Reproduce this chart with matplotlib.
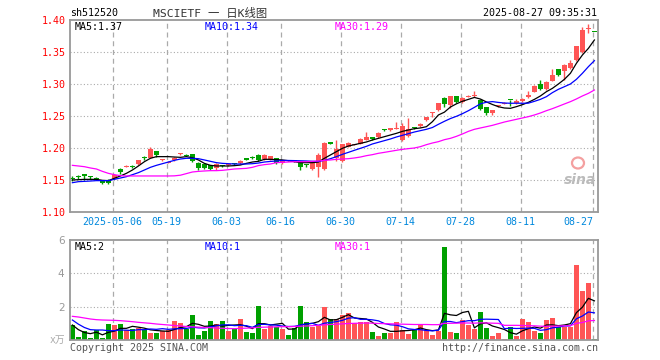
import matplotlib
matplotlib.use('Agg')
import matplotlib.pyplot as plt
from matplotlib.patches import Ellipse
import numpy as np

plt.rcParams['font.family'] = ['DejaVu Sans Mono', 'Noto Sans CJK SC']

# 日K数据 (2025-04-22 ~ 2025-08-27, 88个交易日)
opens = [1.153, 1.155, 1.158, 1.155, 1.153, 1.149, 1.150, 1.152, 1.167, 1.171,
         1.172, 1.175, 1.186, 1.185, 1.195, 1.181, 1.177, 1.181, 1.190, 1.189,
         1.190, 1.177, 1.175, 1.173, 1.168, 1.173, 1.173, 1.176, 1.176, 1.183,
         1.186, 1.189, 1.183, 1.183, 1.184, 1.176, 1.181, 1.180, 1.179, 1.174,
         1.167, 1.171, 1.167, 1.208, 1.184, 1.179, 1.202, 1.205, 1.207, 1.2125,
         1.2167, 1.2167, 1.229, 1.228, 1.230, 1.2125, 1.218, 1.232, 1.234, 1.243,
         1.255, 1.259, 1.2776, 1.2672, 1.2813, 1.2724, 1.280, 1.281, 1.275, 1.2635,
         1.254, 1.265, 1.269, 1.2755, 1.2698, 1.2729, 1.2792, 1.288, 1.300, 1.2917,
         1.3052, 1.3229, 1.3208, 1.3245, 1.3375, 1.3495, 1.386, 1.382]
highs = [1.156, 1.158, 1.158, 1.157, 1.154, 1.150, 1.151, 1.159, 1.168, 1.174,
         1.173, 1.182, 1.188, 1.202, 1.196, 1.183, 1.180, 1.186, 1.192, 1.190,
         1.191, 1.178, 1.176, 1.174, 1.176, 1.174, 1.175, 1.177, 1.181, 1.184,
         1.187, 1.190, 1.190, 1.188, 1.185, 1.182, 1.182, 1.182, 1.180, 1.175,
         1.177, 1.192, 1.210, 1.209, 1.2125, 1.207, 1.209, 1.207, 1.215, 1.2245,
         1.217, 1.225, 1.230, 1.232, 1.241, 1.2385, 1.2464, 1.233, 1.239, 1.249,
         1.257, 1.271, 1.279, 1.282, 1.282, 1.280, 1.283, 1.2896, 1.277, 1.264,
         1.260, 1.267, 1.272, 1.2755, 1.276, 1.278, 1.2896, 1.298, 1.3063, 1.304,
         1.3229, 1.324, 1.331, 1.3375, 1.360, 1.3896, 1.3937, 1.382]
lows = [1.149, 1.151, 1.150, 1.152, 1.150, 1.144, 1.144, 1.151, 1.160, 1.170,
        1.169, 1.174, 1.182, 1.185, 1.186, 1.180, 1.176, 1.180, 1.189, 1.187,
        1.178, 1.166, 1.167, 1.165, 1.166, 1.171, 1.172, 1.174, 1.175, 1.181,
        1.183, 1.180, 1.182, 1.182, 1.175, 1.175, 1.179, 1.178, 1.166, 1.171,
        1.165, 1.154, 1.166, 1.206, 1.179, 1.178, 1.201, 1.204, 1.206, 1.212,
        1.212, 1.216, 1.227, 1.227, 1.229, 1.211, 1.217, 1.230, 1.233, 1.242,
        1.249, 1.258, 1.2635, 1.262, 1.271, 1.271, 1.279, 1.280, 1.259, 1.251,
        1.252, 1.264, 1.268, 1.2656, 1.269, 1.272, 1.278, 1.287, 1.291, 1.291,
        1.304, 1.313, 1.307, 1.323, 1.336, 1.348, 1.380, 1.3815]
closes = [1.152, 1.154, 1.157, 1.154, 1.151, 1.146, 1.145, 1.158, 1.163, 1.172,
          1.171, 1.181, 1.185, 1.198, 1.189, 1.182, 1.178, 1.185, 1.191, 1.188,
          1.179, 1.168, 1.168, 1.167, 1.175, 1.172, 1.174, 1.175, 1.180, 1.182,
          1.185, 1.182, 1.189, 1.187, 1.176, 1.181, 1.180, 1.179, 1.171, 1.173,
          1.176, 1.189, 1.208, 1.207, 1.198, 1.206, 1.208, 1.206, 1.214, 1.2177,
          1.2135, 1.224, 1.228, 1.231, 1.231, 1.234, 1.229, 1.231, 1.238, 1.248,
          1.256, 1.270, 1.2688, 1.2813, 1.2724, 1.2786, 1.281, 1.282, 1.2604, 1.254,
          1.259, 1.2656, 1.271, 1.275, 1.274, 1.277, 1.2833, 1.2974, 1.2922, 1.3036,
          1.314, 1.314, 1.3297, 1.3333, 1.3594, 1.3844, 1.387, 1.3818]
ma5 = [1.1500, 1.1505, 1.1510, 1.1510, 1.1510, 1.1495, 1.1490, 1.1526, 1.1563, 1.1604,
       1.1656, 1.1719, 1.1786, 1.1839, 1.1865, 1.1865, 1.1865, 1.1859, 1.1854, 1.1865,
       1.1849, 1.1813, 1.1760, 1.1729, 1.1719, 1.1719, 1.1719, 1.1724, 1.1734, 1.1760,
       1.1781, 1.1792, 1.1823, 1.1823, 1.1818, 1.1813, 1.1802, 1.1786, 1.1771, 1.1771,
       1.1771, 1.1781, 1.1839, 1.1891, 1.1943, 1.1995, 1.2031, 1.2052, 1.2073, 1.2094,
       1.2125, 1.2151, 1.2177, 1.2203, 1.2229, 1.2260, 1.2281, 1.2302, 1.2313, 1.2333,
       1.2411, 1.2516, 1.2560, 1.2640, 1.2690, 1.2730, 1.2760, 1.2790, 1.2765, 1.2720,
       1.2680, 1.2645, 1.2625, 1.2620, 1.2646, 1.2677, 1.2714, 1.2760, 1.2813, 1.2880,
       1.2932, 1.3000, 1.3073, 1.3167, 1.3323, 1.3453, 1.3557, 1.3688]
ma10 = [1.1458, 1.1474, 1.1479, 1.1484, 1.1490, 1.1490, 1.1490, 1.1510, 1.1531, 1.1552,
        1.1583, 1.1615, 1.1656, 1.1698, 1.1729, 1.1755, 1.1781, 1.1807, 1.1828, 1.1839,
        1.1839, 1.1833, 1.1813, 1.1792, 1.1771, 1.1760, 1.1755, 1.1750, 1.1750, 1.1750,
        1.1755, 1.1765, 1.1781, 1.1790, 1.1797, 1.1805, 1.1805, 1.1803, 1.1800, 1.1797,
        1.1792, 1.1790, 1.1807, 1.1833, 1.1865, 1.1901, 1.1932, 1.1964, 1.1995, 1.2026,
        1.2063, 1.2089, 1.2115, 1.2141, 1.2172, 1.2198, 1.2224, 1.2250, 1.2271, 1.2292,
        1.2320, 1.2370, 1.2417, 1.2460, 1.2495, 1.2536, 1.2583, 1.2635, 1.2690, 1.2715,
        1.2725, 1.2712, 1.2703, 1.2699, 1.2700, 1.2699, 1.2701, 1.2729, 1.2760, 1.2802,
        1.2865, 1.2917, 1.2958, 1.3000, 1.3073, 1.3167, 1.3271, 1.3365]
ma30 = [1.1729, 1.1719, 1.1708, 1.1688, 1.1672, 1.1635, 1.1604, 1.1583, 1.1568, 1.1563,
        1.1563, 1.1563, 1.1563, 1.1563, 1.1563, 1.1563, 1.1563, 1.1565, 1.1575, 1.1600,
        1.1625, 1.1635, 1.1641, 1.1646, 1.1646, 1.1651, 1.1661, 1.1672, 1.1677, 1.1682,
        1.1698, 1.1725, 1.1740, 1.1750, 1.1771, 1.1776, 1.1781, 1.1786, 1.1786, 1.1786,
        1.1792, 1.1797, 1.1807, 1.1813, 1.1823, 1.1828, 1.1833, 1.1844, 1.1859, 1.1880,
        1.1896, 1.1917, 1.1932, 1.1948, 1.1964, 1.1979, 1.1990, 1.2000, 1.2021, 1.2052,
        1.2078, 1.2099, 1.2130, 1.2151, 1.2182, 1.2219, 1.2260, 1.2292, 1.2313, 1.2333,
        1.2354, 1.2380, 1.2406, 1.2427, 1.2448, 1.2469, 1.2490, 1.2516, 1.2547, 1.2583,
        1.2615, 1.2651, 1.2688, 1.2724, 1.2766, 1.2813, 1.2854, 1.2906]

# 成交量 (万手)
volume = [0.9, 0.2, 0.56, 0.1, 0.6, 0.1, 0.96, 0.9, 0.96, 0.6,
          0.68, 0.72, 0.6, 0.44, 0.4, 0.54, 0.6, 1.16, 1.04, 0.68,
          1.5, 0.3, 0.56, 1.16, 0.96, 1.16, 0.56, 0.66, 1.26, 0.5,
          0.44, 2.04, 0.66, 0.84, 0.76, 0.68, 0.3, 0.74, 2.04, 1.1,
          0.8, 0.84, 2.0, 1.24, 1.24, 1.5, 1.64, 1.0, 1.08, 1.08,
          0.48, 0.24, 0.4, 0.42, 1.08, 0.6, 0.36, 0.6, 0.94, 0.6,
          0.3, 0.56, 5.6, 0.48, 0.4, 1.2, 0.9, 0.66, 1.68, 0.72,
          0.24, 0.42, 0.08, 0.76, 0.24, 1.26, 1.08, 0.56, 0.4, 1.2,
          1.32, 0.8, 0.8, 0.8, 4.5, 2.94, 3.44, 0.06]
vma5 = [0.90, 0.62, 0.45, 0.38, 0.47, 0.31, 0.46, 0.53, 0.70, 0.70,
        0.82, 0.77, 0.71, 0.61, 0.57, 0.54, 0.52, 0.63, 0.75, 0.80,
        1.00, 0.94, 0.82, 0.84, 0.90, 0.83, 0.88, 0.90, 0.92, 0.83,
        0.68, 0.98, 0.98, 0.90, 0.95, 1.00, 0.65, 0.66, 0.90, 0.97,
        1.00, 1.10, 1.36, 1.20, 1.22, 1.36, 1.52, 1.32, 1.29, 1.26,
        1.06, 0.78, 0.66, 0.52, 0.52, 0.55, 0.57, 0.61, 0.72, 0.62,
        0.56, 0.60, 1.60, 1.51, 1.47, 1.65, 1.72, 0.73, 0.97, 1.03,
        0.84, 0.74, 0.63, 0.44, 0.35, 0.55, 0.68, 0.78, 0.71, 0.90,
        0.91, 0.86, 0.90, 0.98, 1.64, 1.97, 2.50, 2.35]
vma10 = [1.20, 0.95, 0.75, 0.62, 0.60, 0.60, 0.56, 0.56, 0.60, 0.59,
         0.57, 0.62, 0.62, 0.66, 0.64, 0.68, 0.64, 0.67, 0.68, 0.69,
         0.77, 0.73, 0.72, 0.79, 0.85, 0.91, 0.91, 0.86, 0.88, 0.86,
         0.76, 0.93, 0.94, 0.91, 0.89, 0.84, 0.81, 0.82, 0.90, 0.96,
         1.00, 0.88, 1.01, 1.05, 1.10, 1.18, 1.31, 1.34, 1.24, 1.24,
         1.21, 1.15, 0.99, 0.91, 0.89, 0.80, 0.67, 0.63, 0.62, 0.57,
         0.55, 0.59, 1.11, 1.11, 1.04, 1.10, 1.16, 1.16, 1.24, 1.25,
         1.24, 1.23, 0.68, 0.71, 0.69, 0.70, 0.71, 0.70, 0.58, 0.62,
         0.73, 0.77, 0.84, 0.85, 1.27, 1.44, 1.68, 1.63]
vma30 = [1.42, 1.38, 1.32, 1.26, 1.22, 1.20, 1.19, 1.18, 1.16, 1.13,
         1.10, 1.06, 1.03, 1.00, 0.96, 0.93, 0.90, 0.87, 0.84, 0.81,
         0.79, 0.77, 0.75, 0.74, 0.72, 0.70, 0.69, 0.68, 0.70, 0.71,
         0.73, 0.76, 0.77, 0.78, 0.79, 0.80, 0.80, 0.81, 0.83, 0.84,
         0.86, 0.88, 0.91, 0.93, 0.95, 0.97, 0.99, 1.00, 1.01, 1.02,
         1.01, 0.99, 0.98, 0.97, 0.96, 0.95, 0.94, 0.93, 0.93, 0.93,
         0.92, 0.92, 1.00, 1.00, 1.01, 1.02, 1.02, 1.01, 1.03, 1.02,
         1.01, 1.00, 0.88, 0.88, 0.88, 0.87, 0.86, 0.85, 0.83, 0.82,
         0.83, 0.84, 0.85, 0.86, 1.00, 1.05, 1.15, 1.17]

date_idx = [7, 16, 26, 35, 45, 55, 65, 75, 87]
date_labels = ['2025-05-06', '05-19', '06-03', '06-16', '06-30',
               '07-14', '07-28', '08-11', '08-27']

RED = '#ff5555'
GREEN = '#00a000'
GRID = '#aaaaaa'
W, H = 660, 360

fig = plt.figure(figsize=(6.6, 3.6), dpi=100)


def px_axes(x0, y0, x1, y1):
    return fig.add_axes([x0 / W, 1 - y1 / H, (x1 - x0) / W, (y1 - y0) / H])


def ftext(x, y, s, **kw):
    kw.setdefault('fontsize', 7.2)
    kw.setdefault('va', 'center')
    fig.text(x / W, 1 - y / H, s, **kw)


ax = px_axes(70, 20, 598, 212)
axv = px_axes(70, 240, 598, 340)

n = len(closes)
x = np.arange(n)
o = np.array(opens)
c = np.array(closes)
cols = [RED if c[i] >= o[i] else GREEN for i in range(n)]
bottoms = np.minimum(o, c)
heights = np.maximum(np.abs(c - o), 0.0016)

for a, ylim in ((ax, (1.10, 1.40)), (axv, (0, 6))):
    a.set_xlim(-0.4, n - 0.4)
    a.set_ylim(*ylim)
    for s in a.spines.values():
        s.set_color('#999999')
        s.set_linewidth(1.3)
    for d in date_idx:
        a.axvline(d - 0.3, color=GRID, lw=0.9, ls=(0, (4, 3)), zorder=0)
    a.set_xticks([])
    a.tick_params(length=0)

# 价格
for y in [1.15, 1.20, 1.25, 1.30, 1.35]:
    ax.axhline(y, color=GRID, lw=0.8, ls=(0, (1, 2)), zorder=0)
ax.vlines(x, lows, highs, colors=cols, lw=1, zorder=2)
ax.bar(x, heights, bottom=bottoms, width=0.75, color=cols, lw=0, zorder=2)
ax.plot(x, ma5, color='black', lw=0.9, zorder=3)
ax.plot(x, ma10, color='#0000ff', lw=0.9, zorder=3)
ax.plot(x, ma30, color='#ff00ff', lw=0.9, zorder=3)
yt = [1.10, 1.15, 1.20, 1.25, 1.30, 1.35, 1.40]
ax.set_yticks(yt, [f'{v:.2f}' for v in yt], color='red', fontsize=7.2)
ax.tick_params(axis='y', pad=3)

for d, lab in zip(date_idx, date_labels):
    ha = 'right' if d == date_idx[-1] else 'center'
    ax.text(d - 0.3 + (0.15 if ha == 'right' else 0), -0.05, lab,
            transform=ax.get_xaxis_transform(), ha=ha, va='center',
            color='#0088dd', fontsize=7.2)

# 成交量
for y in [2, 4]:
    axv.axhline(y, color=GRID, lw=0.8, ls=(0, (1, 2)), zorder=0)
axv.bar(x, volume, width=0.75, color=cols, lw=0, zorder=2)
axv.plot(x, vma5, color='black', lw=0.9, zorder=3)
axv.plot(x, vma10, color='#0000ff', lw=0.9, zorder=3)
axv.plot(x, vma30, color='#ff00ff', lw=0.9, zorder=3)
axv.set_yticks([2, 4, 6], ['2', '4', '6'], color='#999999', fontsize=7.5,
               family='DejaVu Sans')
axv.tick_params(axis='y', pad=4)

# 文字
ftext(70, 13, 'sh512520', color='black')
ftext(210, 13, 'MSCIETF 一 日K线图', ha='center', color='#333333', fontsize=8.2)
ftext(597, 13, '2025-08-27 09:35:31', ha='right', color='black')

ftext(75, 27, f'MA5:{ma5[-1]:.2f}', color='black')
ftext(205, 27, f'MA10:{ma10[-1]:.2f}', color='#0000ff')
ftext(335, 27, f'MA30:{ma30[-1]:.2f}', color='#ff00ff')
ftext(75, 247, f'MA5:{int(vma5[-1])}', color='black')
ftext(205, 247, f'MA10:{int(vma10[-1])}', color='#0000ff')
ftext(335, 247, f'MA30:{int(vma30[-1])}', color='#ff00ff')

ftext(65, 340, 'x万', ha='right', color='#aaaaaa', fontsize=7)
ftext(70, 348, 'Copyright 2025 SINA.COM', color='#555555')
ftext(598, 348, 'http://finance.sina.com.cn', ha='right', color='#555555')

# sina 水印
fig.add_artist(Ellipse((578 / W, 1 - 163 / H), 12 / W, 11 / H,
                       transform=fig.transFigure, fill=False,
                       ec='#f4a0a0', lw=1.6))
ftext(580, 180, 'sina', ha='center', color='#bbbbbb', fontsize=10,
      style='italic', weight='bold', family='DejaVu Sans')

fig.savefig('out.png', dpi=100)
